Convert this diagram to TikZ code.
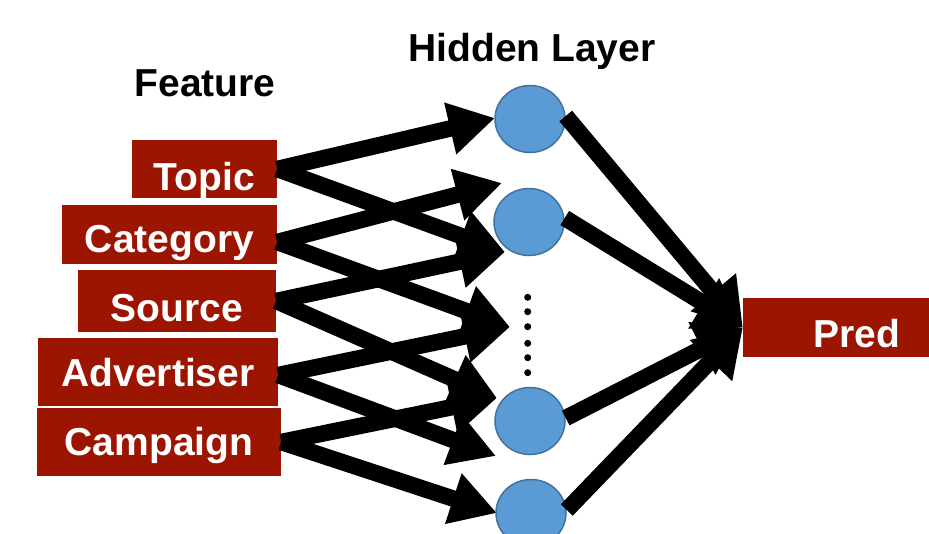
\documentclass[tikz,border=0pt]{standalone}
\usepackage{fontspec}
\setmainfont{Liberation Sans}
\usetikzlibrary{arrows.meta,shapes.geometric}
\definecolor{boxred}{RGB}{155,21,0}
\definecolor{nodeblue}{RGB}{91,155,213}
\definecolor{nodeedge}{RGB}{65,113,156}
\begin{document}
\begin{tikzpicture}[x=1pt,y=-1pt,
  feat/.style={fill=boxred,text=white,font=\bfseries\fontsize{39}{41}\selectfont,inner sep=0pt,text depth=0pt},
  hid/.style={ellipse,fill=nodeblue,draw=nodeedge,line width=1.5pt,minimum width=70pt,minimum height=67pt,inner sep=0pt},
  title/.style={font=\bfseries\fontsize{39}{41}\selectfont,anchor=base,inner sep=0pt},
  conn/.style={line width=16.5pt,-{Triangle[length=46pt,width=50pt]}},
  outconn/.style={line width=16.5pt,-{Triangle[length=46pt,width=56pt]}}]
\clip (0,0) rectangle (929,533);
\fill[white] (0,0) rectangle (929,533);
% titles
\node[title] (ft) at (205,96) {Feature};
\node[title] (ht) at (532,61) {Hidden Layer};
% feature boxes
\node[feat,minimum width=145pt,minimum height=58pt,text height=42pt] (topic) at (204.5,169) {Topic};
\node[feat,minimum width=215pt,minimum height=59pt,text height=35pt] (category) at (169.5,234.5) {Category};
\node[feat,minimum width=198pt,minimum height=62pt,text height=41pt] (source) at (177,301) {Source};
\node[feat,minimum width=240pt,minimum height=68pt,text height=29pt] (advertiser) at (158,372) {Advertiser};
\node[feat,minimum width=244pt,minimum height=68pt,text height=26pt] (campaign) at (159,442) {Campaign};
% prediction box
\node[feat,minimum width=228pt,minimum height=59pt,text height=39pt] (pred) at (857,327.5) {Pred};
% arrow ends at the hidden layer
\coordinate (t1) at (495,118);
\coordinate (t2) at (505,252);
\coordinate (t3) at (502,183);
\coordinate (t4) at (510,327);
\coordinate (t5) at (497,398);
\coordinate (t6) at (496,456);
\coordinate (t7) at (497,513);
% feature -> hidden
\draw[conn] (topic.east) -- (t1);
\draw[conn] (topic.east) -- (t2);
\draw[conn] ([yshift=-7.5pt]category.east) -- (t3);
\draw[conn] ([yshift=-7.5pt]category.east) -- (t4);
\draw[conn] (source.east) -- (t2);
\draw[conn] (source.east) -- (t5);
\draw[conn] ([yshift=-3pt]advertiser.east) -- (t4);
\draw[conn] ([yshift=-3pt]advertiser.east) -- (t6);
\draw[conn] (campaign.east) -- (t5);
\draw[conn] (campaign.east) -- (t7);
% hidden nodes
\node[hid] (h1) at (530,119) {};
\node[hid] (h2) at (529,222) {};
\node[hid] (h3) at (530,421) {};
\node[hid] (h4) at (531,513) {};
\foreach \yy in {297.3,311.7,326.7,343.3,357.7,372.7}
  \fill (527.7,\yy) circle (3.5pt);
% hidden -> pred
\draw[outconn] ([yshift=3pt]h1.east) -- (pred.west);
\draw[outconn] ([yshift=4pt]h2.east) -- (pred.west);
\draw[outconn] ([yshift=3pt]h3.east) -- (pred.west);
\draw[outconn] ([yshift=3pt]h4.east) -- (pred.west);
\end{tikzpicture}
\end{document}
